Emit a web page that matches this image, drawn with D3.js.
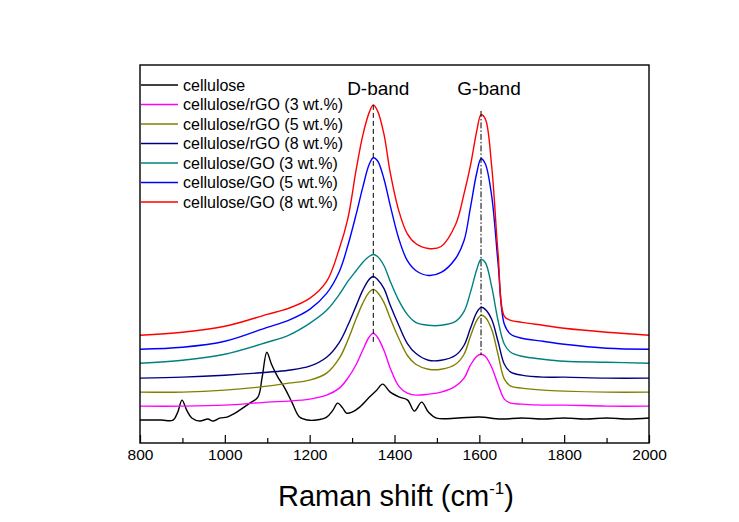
<!DOCTYPE html>
<html>
<head>
<meta charset="utf-8">
<script src="https://cdn.jsdelivr.net/npm/d3@7"></script>
<style>
  body { margin: 0; background: #fff; }
  svg { display: block; font-family: Arial, "Liberation Sans", sans-serif; }
</style>
</head>
<body>
<svg id="chart" width="739" height="522"></svg>
<script>
// Raman spectra of cellulose and cellulose/GO, cellulose/rGO films (stacked, a.u.)

// common wavenumber grid for the composite spectra
const gridX = [800, 900, 1000, 1100, 1150, 1200, 1240, 1270, 1290, 1310, 1325, 1340, 1350, 1360, 1375, 1390, 1410, 1430, 1450, 1480, 1510, 1544, 1564, 1579, 1594, 1604, 1614, 1629, 1644, 1659, 1674, 1700, 1750, 1800, 1900, 2000];

const go8  = [97, 100, 106, 118, 124, 134, 151, 184, 214, 264, 297, 320, 328, 322, 299, 260, 222, 199, 189, 184, 186, 208, 239, 267, 302, 318, 314, 267, 180, 116, 112, 110, 107, 104, 100, 97];
const go5  = [83, 85, 91, 105, 112, 123, 139, 161, 187, 219, 245, 268, 275, 272, 254, 227, 194, 172, 162, 157, 160, 174, 192, 225, 260, 274, 269, 237, 170, 108, 98, 94, 91, 88, 84, 83];
const go3  = [69, 72, 78, 90, 97, 109, 122, 138, 151, 162, 170, 176, 178, 176, 167, 151, 132, 118, 110, 107, 107, 111, 121, 140, 163, 173, 170, 146, 112, 88, 80, 76, 73, 71, 70, 69];
const rgo8 = [54, 55, 57, 60, 62, 66, 75, 90, 107, 127, 142, 153, 156, 153, 144, 127, 107, 89, 79, 72, 72, 77, 87, 104, 120, 125, 123, 113, 91, 68, 60, 57, 55, 55, 54, 54];
const rgo5 = [40, 40, 42, 46, 49, 52, 59, 74, 92, 114, 129, 140, 143, 140, 130, 114, 94, 77, 68, 63, 63, 68, 78, 96, 112, 117, 115, 103, 78, 53, 46, 44, 42, 41, 40, 40];
const rgo3 = [26, 26, 27, 30, 31, 33, 37, 44, 54, 68, 82, 95, 99, 95, 82, 64, 46, 39, 37, 38, 40, 46, 54, 67, 76, 78, 76, 65, 48, 33, 29, 28, 27, 27, 26, 26];

// pure cellulose has its own sampling
const celluloseX = [800, 850, 878, 889, 899, 910, 922, 941, 960, 972, 988, 1005, 1020, 1035, 1059, 1078, 1088, 1099, 1110, 1125, 1140, 1158, 1176, 1195, 1216, 1240, 1255, 1266, 1278, 1287, 1300, 1318, 1341, 1358, 1372, 1390, 1412, 1431, 1447, 1464, 1480, 1499, 1550, 1600, 1650, 1700, 1750, 1800, 1850, 1900, 1950, 2000];
const celluloseY = [12, 12, 12, 20, 32, 22, 14, 11, 13, 11, 14, 15, 18, 22, 29, 35, 55, 80, 68, 55, 45, 30, 15, 12, 12, 15, 22, 29, 24, 19, 20, 25, 35, 42, 48, 40, 35, 32, 21, 30, 20, 14, 14, 15, 13, 14, 13, 14, 13, 14, 13, 14];

const seriesNames  = ["cellulose", "cellulose/rGO (3 wt.%)", "cellulose/rGO (5 wt.%)", "cellulose/rGO (8 wt.%)", "cellulose/GO (3 wt.%)", "cellulose/GO (5 wt.%)", "cellulose/GO (8 wt.%)"];
const seriesColors = ["#000000", "#ff00ff", "#808000", "#000080", "#008080", "#0000ff", "#ff0000"];

const majorTicks = [800, 1000, 1200, 1400, 1600, 1800, 2000];
const minorTicks = [900, 1100, 1300, 1500, 1700, 1900];
const bandPositions = [1350, 1604];
const bandLabels = ["D-band", "G-band"];

// layout
const margin = { left: 140, right: 649, top: 65, bottom: 443 };

const svg = d3.select("#chart");

const x = d3.scaleLinear().domain([800, 2000]).range([margin.left, margin.right]);
const y = d3.scaleLinear().domain([-11, 368]).range([margin.bottom, margin.top]);

const series = [
    { name: seriesNames[0], color: seriesColors[0], pts: celluloseX.map((v, i) => [v, celluloseY[i]]) },
    { name: seriesNames[1], color: seriesColors[1], pts: gridX.map((v, i) => [v, rgo3[i]]) },
    { name: seriesNames[2], color: seriesColors[2], pts: gridX.map((v, i) => [v, rgo5[i]]) },
    { name: seriesNames[3], color: seriesColors[3], pts: gridX.map((v, i) => [v, rgo8[i]]) },
    { name: seriesNames[4], color: seriesColors[4], pts: gridX.map((v, i) => [v, go3[i]]) },
    { name: seriesNames[5], color: seriesColors[5], pts: gridX.map((v, i) => [v, go5[i]]) },
    { name: seriesNames[6], color: seriesColors[6], pts: gridX.map((v, i) => [v, go8[i]]) }
];

const line = d3.line()
    .x(d => x(d[0]))
    .y(d => y(d[1]))
    .curve(d3.curveCatmullRom.alpha(0.5));

// spectra
svg.append("g")
    .selectAll("path")
    .data(series)
    .enter()
    .append("path")
    .attr("d", d => line(d.pts))
    .attr("fill", "none")
    .attr("stroke", d => d.color)
    .attr("stroke-width", 1.4);

// band marker lines, from the top peak down to the lowest composite peak
const bandTops = [go8[gridX.indexOf(1350)], go8[gridX.indexOf(1604)] + 4];
const bandBottoms = [rgo3[gridX.indexOf(1350)] - 10, rgo3[gridX.indexOf(1604)] - 1];
const bandDash = ["5,3", "6,2,1.5,2"];

bandPositions.forEach((b, i) => {
    svg.append("line")
        .attr("x1", x(b)).attr("x2", x(b))
        .attr("y1", y(bandTops[i])).attr("y2", y(bandBottoms[i]))
        .attr("stroke", "#000")
        .attr("stroke-width", 1)
        .attr("stroke-dasharray", bandDash[i]);
});

svg.append("text").attr("x", x(1350) + 5).attr("y", 95)
    .attr("text-anchor", "middle").attr("font-size", "19px").text(bandLabels[0]);
svg.append("text").attr("x", x(1604) + 8).attr("y", 95)
    .attr("text-anchor", "middle").attr("font-size", "19px").text(bandLabels[1]);

// frame
svg.append("rect")
    .attr("x", margin.left).attr("y", margin.top)
    .attr("width", margin.right - margin.left)
    .attr("height", margin.bottom - margin.top)
    .attr("fill", "none")
    .attr("stroke", "#000")
    .attr("stroke-width", 1.4);

// x axis, ticks pointing inwards
const xAxis = svg.append("g")
    .attr("transform", `translate(0,${margin.bottom})`)
    .call(d3.axisBottom(x).tickValues(majorTicks).tickSize(-8).tickPadding(6).tickFormat(d3.format("d")));
xAxis.select(".domain").remove();
xAxis.selectAll("text").attr("font-size", "15.5px").attr("font-family", "Arial, 'Liberation Sans', sans-serif").attr("fill", "#000");
xAxis.selectAll("line").attr("stroke-width", 1.2);

const xMinor = svg.append("g")
    .attr("transform", `translate(0,${margin.bottom})`)
    .call(d3.axisBottom(x).tickValues(minorTicks).tickSize(-5).tickFormat(""));
xMinor.select(".domain").remove();
xMinor.selectAll("line").attr("stroke-width", 1.2);

// axis title
const title = svg.append("text")
    .attr("x", 396).attr("y", 506)
    .attr("text-anchor", "middle")
    .attr("font-size", "29px");
title.append("tspan").text("Raman shift (cm");
title.append("tspan").attr("font-size", "17px").attr("dy", "-12").text("-1");
title.append("tspan").attr("dy", "12").text(")");

// legend
const legend = svg.append("g");
series.forEach((s, i) => {
    const ly = 85 + i * 19.5;
    legend.append("line")
        .attr("x1", 141).attr("x2", 178)
        .attr("y1", ly).attr("y2", ly)
        .attr("stroke", s.color)
        .attr("stroke-width", 1.4);
    legend.append("text")
        .attr("x", 183).attr("y", ly)
        .attr("dy", "0.35em")
        .attr("font-size", "16px")
        .text(s.name);
});
</script>
</body>
</html>
